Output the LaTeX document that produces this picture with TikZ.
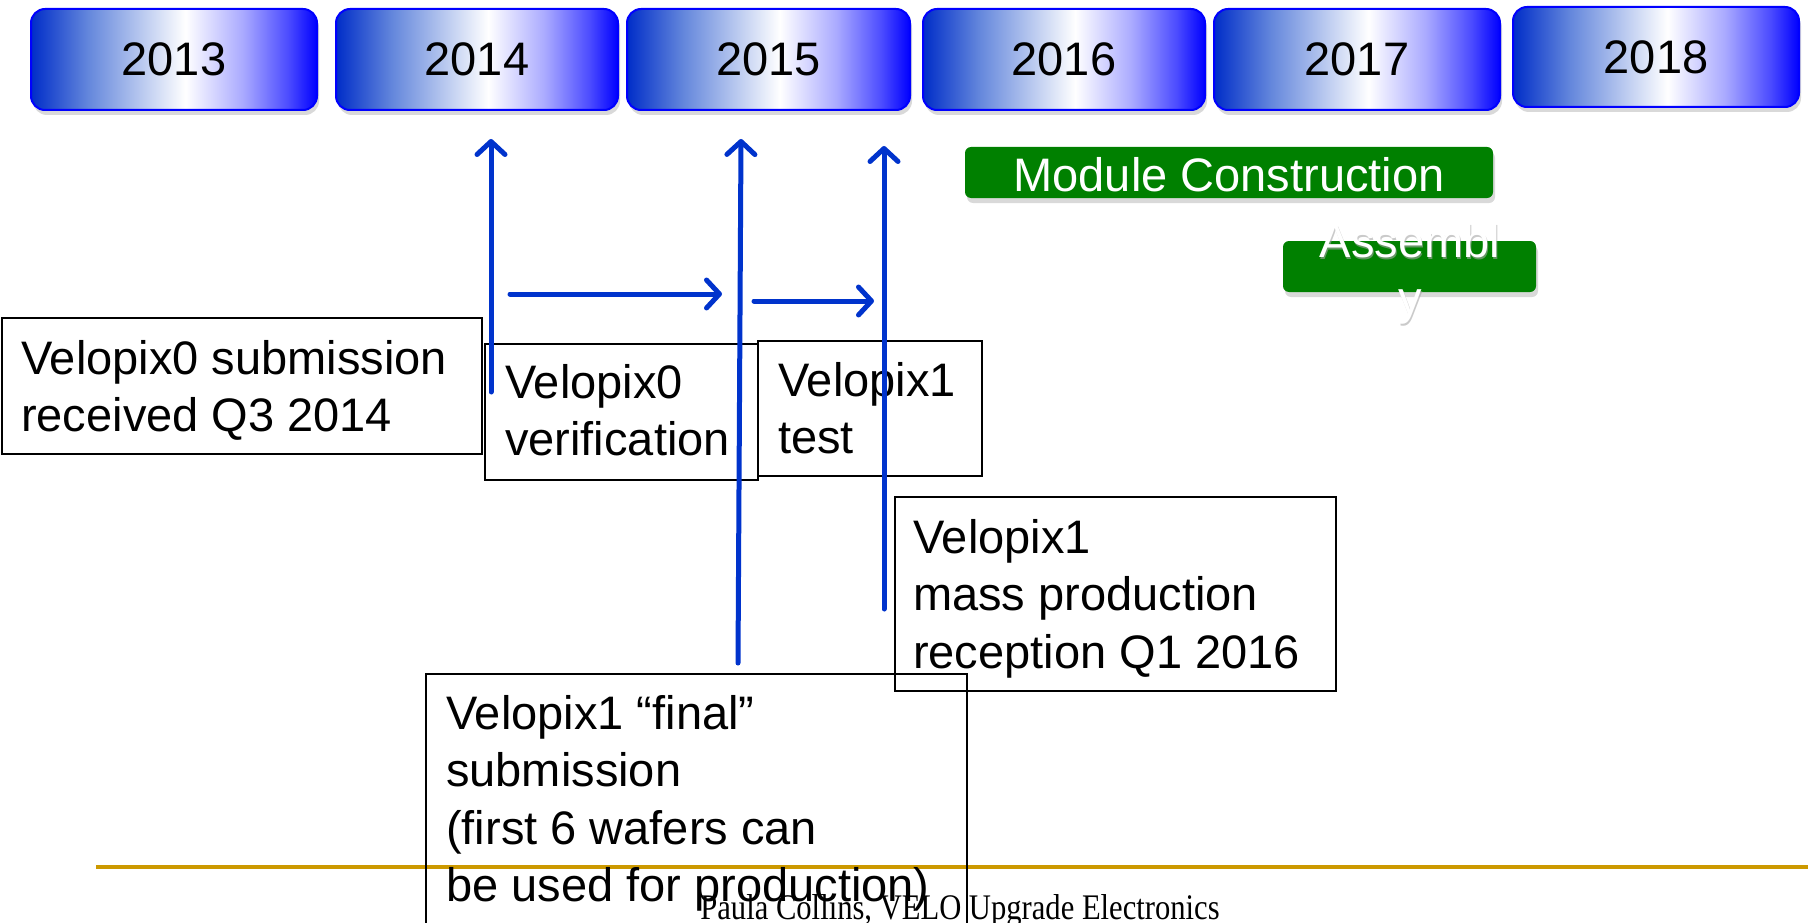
\documentclass[tikz,border=0pt]{standalone}
\usepackage{fontspec}
\setmainfont{Liberation Sans}
\newfontfamily\footfont{Liberation Serif}
\usetikzlibrary{arrows.meta,shadows}
\definecolor{yA}{RGB}{0,45,200}
\definecolor{yB}{RGB}{100,135,220}
\definecolor{yC}{RGB}{170,170,255}
\definecolor{yE}{RGB}{75,75,255}
\definecolor{yD}{RGB}{0,0,255}
\definecolor{arrowblue}{RGB}{0,51,204}
\definecolor{boxgreen}{RGB}{0,128,0}
\definecolor{goldline}{RGB}{204,153,0}
\pgfdeclarehorizontalshading{yearshade}{100bp}{color(0bp)=(yA); color(25bp)=(yA); color(35bp)=(yB); color(52bp)=(white); color(62bp)=(yC); color(70bp)=(yE); color(75bp)=(yD); color(100bp)=(yD)}
\newcommand\mlines[1]{\vtop{\baselineskip=57.5pt\lineskiplimit=-1000pt\lineskip=0pt\halign{##\hfil\cr#1\crcr}}}
\newcommand\mlinesc[1]{\vtop{\baselineskip=57pt\lineskiplimit=-1000pt\lineskip=0pt\halign{\hfil##\hfil\cr#1\crcr}}}
\tikzset{
  yearbox/.style={rectangle, rounded corners=14pt, draw=yD, line width=2pt, shade, shading=yearshade,
    drop shadow={opacity=0.3, shadow xshift=2pt, shadow yshift=-5pt},
    minimum height=101pt, inner sep=0pt, font=\fontsize{47}{56}\selectfont, text=black},
  greenbox/.style={rectangle, rounded corners=6pt, fill=boxgreen,
    drop shadow={opacity=0.3, shadow xshift=2pt, shadow yshift=-5pt},
    minimum height=51pt, inner sep=0pt},
  tbox/.style={rectangle, draw=black, line width=1.5pt, inner sep=0pt, anchor=north west},
  txt/.style={anchor=base west, inner sep=0pt, font=\fontsize{47}{57.5}\selectfont, text=black},
  wtxt/.style={anchor=base, inner sep=0pt, font=\fontsize{47}{57}\selectfont, text=white},
  wshadow/.style={wtxt, text=black!35, text opacity=0.6},
  arr/.style={draw=arrowblue, line width=5pt, line cap=round,
    -{Straight Barb[length=13pt,width=28pt,line cap=round,line join=round]}}
}
\begin{document}
\begin{tikzpicture}[x=1pt,y=-1pt]
\useasboundingbox (0,0) rectangle (1808,923);
% year boxes
\node[yearbox, minimum width=286pt] (y13) at (174,59.5) {2013};
\node[yearbox, minimum width=282pt] (y14) at (477,59.5) {2014};
\node[yearbox, minimum width=283pt] (y15) at (768.5,59.5) {2015};
\node[yearbox, minimum width=282pt] (y16) at (1064,59.5) {2016};
\node[yearbox, minimum width=286pt] (y17) at (1357,59.5) {2017};
\node[yearbox, minimum width=286pt, minimum height=100pt] (y18) at (1656,57) {2018};
% green bars
\node[greenbox, minimum width=528pt] (mod) at (1229,172.5) {};
\node[wtxt] (modt) at (1229,191) {Module Construction};
\node[greenbox, minimum width=253pt] (asm) at (1409.5,266.5) {};
\node[wshadow] (asms) at (1411,259) {\mlinesc{Assembl\cr y}};
\node[wtxt] (asmt) at (1410,257) {\mlinesc{Assembl\cr y}};
% gold footer line
\coordinate (gl) at (96,867);
\coordinate (gr) at (1808,867);
\draw[goldline, line width=4pt] (gl) -- (gr);
% text boxes
\node[tbox, minimum width=480pt, minimum height=136pt] (A) at (1,317) {};
\node[txt] (At) at (21,374) {\mlines{Velopix0 submission\cr received Q3 2014}};
\node[tbox, minimum width=273pt, minimum height=136pt] (B) at (484,343) {};
\node[txt] (Bt) at (505,398) {\mlines{Velopix0\cr verification}};
\node[tbox, minimum width=224pt, minimum height=135pt] (C) at (757,340) {};
\node[txt] (Ct) at (778,396) {\mlines{Velopix1\cr test}};
\node[tbox, minimum width=441pt, minimum height=194pt] (D) at (894,496) {};
\node[txt] (Dt) at (913,553) {\mlines{Velopix1\cr mass production\cr reception Q1 2016}};
\node[tbox, minimum width=541pt, minimum height=270pt] (E) at (425,673) {};
\node[txt] (Et) at (446,729) {\mlines{Velopix1 “final”\cr submission\cr (first 6 wafers can\cr be used for production)}};
% footer
\node[anchor=base, inner sep=0pt, font=\footfont\fontsize{36}{40}\selectfont] (foot) at (960,919) {\scalebox{0.85}[1]{Paula Collins, VELO Upgrade Electronics}};
% arrows
\coordinate (a1s) at (491,392);
\coordinate (a1e) at (491,139);
\coordinate (a2s) at (738,663);
\coordinate (a2e) at (741,139);
\coordinate (a3s) at (884,609);
\coordinate (a3e) at (884,146);
\coordinate (h1s) at (510,294);
\coordinate (h1e) at (722,294);
\coordinate (h2s) at (754,301);
\coordinate (h2e) at (874,301);
\draw[arr] (a1s) -- (a1e);
\draw[arr] (a2s) -- (a2e);
\draw[arr] (a3s) -- (a3e);
\draw[arr] (h1s) -- (h1e);
\draw[arr] (h2s) -- (h2e);
\end{tikzpicture}
\end{document}
